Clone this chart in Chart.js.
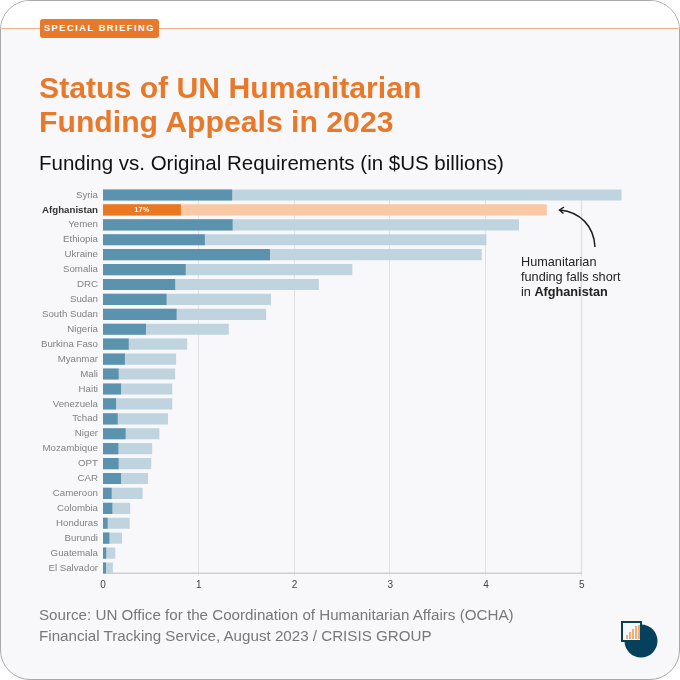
<!DOCTYPE html>
<html>
<head>
<meta charset="utf-8">
<script src="https://cdn.jsdelivr.net/npm/chart.js@4/dist/chart.umd.min.js"></script>
<style>
  html, body { margin: 0; padding: 0; background: #fff; }
  #card { position: relative; width: 680px; height: 680px; overflow: hidden; font-family: "Liberation Sans", Arial, sans-serif; }
  #bg { position: absolute; left: 0; top: 0; width: 678px; height: 678px; border: 1px solid #a9a9ab; border-radius: 30px; background: #f8f8fa; overflow: hidden; }
  #band { position: absolute; left: 0; top: 0; width: 100%; height: 27px; background: #fff; border-bottom: 1px solid #f2b28c; }
  #tag { position: absolute; left: 40px; top: 19px; width: 119px; height: 19px; border-radius: 3px; background: #e8792b; color: #fff; font-size: 9.3px; font-weight: bold; letter-spacing: 1.5px; line-height: 19.5px; text-align: center; }
  h1 { position: absolute; left: 39px; top: 71px; margin: 0; color: #e8792b; font-size: 30.2px; line-height: 34px; font-weight: bold; white-space: nowrap; }
  h2 { position: absolute; left: 39px; top: 151px; margin: 0; color: #111; font-size: 20.5px; line-height: 24px; font-weight: normal; white-space: nowrap; }
  #note { position: absolute; left: 521px; top: 255px; color: #222; font-size: 12.7px; line-height: 15px; white-space: nowrap; }
  #source { position: absolute; left: 39px; top: 605px; color: #77787b; font-size: 15.17px; line-height: 20.5px; white-space: nowrap; }
  canvas { position: absolute; left: 0; top: 0; }
  svg { position: absolute; left: 0; top: 0; }
</style>
</head>
<body>
<div id="card">
  <div id="bg"><div id="band"></div></div>
  <canvas id="chart" width="680" height="680"></canvas>
  <div id="tag">SPECIAL BRIEFING</div>
  <h1>Status of UN Humanitarian<br>Funding Appeals in 2023</h1>
  <h2>Funding vs. Original Requirements (in $US billions)</h2>
  <div id="note">Humanitarian<br>funding falls short<br>in <b>Afghanistan</b></div>
  <div id="source">Source: UN Office for the Coordination of Humanitarian Affairs (OCHA)<br>Financial Tracking Service, August 2023 / CRISIS GROUP</div>
  <svg width="680" height="680">
    <path d="M595 247 C594 226 580 212 560 210" fill="none" stroke="#1c1c1c" stroke-width="1.5"/>
    <path d="M564 207 L559.5 210 L563.5 213.5" fill="none" stroke="#1c1c1c" stroke-width="1.5"/>
    <circle cx="641" cy="641" r="16.5" fill="#05405c"/>
    <rect x="622" y="622" width="19" height="19" fill="#f8f8fa" stroke="#05405c" stroke-width="2"/>
    <g stroke="#ee9a5c" stroke-width="1.6">
      <line x1="627" y1="639" x2="627" y2="635"/>
      <line x1="630" y1="639" x2="630" y2="632"/>
      <line x1="633" y1="639" x2="633" y2="629"/>
      <line x1="636" y1="639" x2="636" y2="626"/>
      <line x1="639" y1="639" x2="639" y2="625"/>
    </g>
  </svg>
</div>
<script>
const categories = ['Syria', 'Afghanistan', 'Yemen', 'Ethiopia', 'Ukraine', 'Somalia', 'DRC', 'Sudan', 'South Sudan', 'Nigeria', 'Burkina Faso', 'Myanmar', 'Mali', 'Haiti', 'Venezuela', 'Tchad', 'Niger', 'Mozambique', 'OPT', 'CAR', 'Cameroon', 'Colombia', 'Honduras', 'Burundi', 'Guatemala', 'El Salvador'];
const funding = [1.345, 0.81, 1.35, 1.06, 1.74, 0.86, 0.75, 0.66, 0.765, 0.445, 0.265, 0.225, 0.16, 0.185, 0.133, 0.15, 0.233, 0.157, 0.16, 0.185, 0.087, 0.094, 0.045, 0.063, 0.03, 0.028];
const requirements = [5.41, 4.63, 4.34, 4.0, 3.95, 2.6, 2.25, 1.75, 1.7, 1.31, 0.875, 0.76, 0.75, 0.72, 0.72, 0.675, 0.585, 0.51, 0.5, 0.467, 0.41, 0.28, 0.275, 0.195, 0.125, 0.1];
const xTicks = [0, 1, 2, 3, 4, 5];
const highlight = 'Afghanistan';
const highlightLabel = '17%';

const isHighlight = (ctx) => categories[ctx.dataIndex] === highlight;

// grid and base line stop just under the last bar, and the % label sits on the orange bar
const extras = {
  id: 'extras',
  beforeDatasetsDraw(chart) {
    const { ctx, scales: { x, y } } = chart;
    const base = y.getPixelForValue(categories.length - 1) + 5.2;
    const lastX = x.getPixelForValue(xTicks[xTicks.length - 1]);
    ctx.save();
    ctx.strokeStyle = '#e1e1e4';
    xTicks.slice(1).forEach((v) => {
      const px = Math.round(x.getPixelForValue(v)) - 0.5;
      ctx.lineWidth = v === 5 ? 1.5 : 1;
      ctx.beginPath();
      ctx.moveTo(px, y.top + 2.5);
      ctx.lineTo(px, base + 2.5);
      ctx.stroke();
    });
    ctx.strokeStyle = '#cfcfd2';
    ctx.lineWidth = 1.5;
    ctx.beginPath();
    ctx.moveTo(x.left, base);
    ctx.lineTo(lastX, base);
    ctx.stroke();
    ctx.restore();
  },
  afterDatasetsDraw(chart) {
    const { ctx } = chart;
    const i = categories.indexOf(highlight);
    const meta = chart.getDatasetMeta(0).data[i];
    ctx.save();
    ctx.fillStyle = '#fff';
    ctx.font = 'bold 7.5px "Liberation Sans"';
    ctx.textAlign = 'center';
    ctx.textBaseline = 'middle';
    ctx.fillText(highlightLabel, (meta.base + meta.x) / 2, meta.y + 0.5);
    ctx.restore();
  }
};

new Chart(document.getElementById('chart'), {
  type: 'bar',
  data: {
    labels: categories,
    datasets: [
      {
        label: 'Funding',
        data: funding,
        order: 1,
        grouped: false,
        barThickness: 10.5,
        backgroundColor: (ctx) => isHighlight(ctx) ? '#ea7722' : '#5b93ae'
      },
      {
        label: 'Original requirements',
        data: requirements,
        order: 2,
        grouped: false,
        barThickness: 10.5,
        backgroundColor: (ctx) => isHighlight(ctx) ? '#f9c9a5' : '#c0d4e0'
      }
    ]
  },
  options: {
    indexAxis: 'y',
    responsive: false,
    animation: false,
    layout: { padding: { left: 0, right: 55, top: 187.5, bottom: 84.5 } },
    plugins: { legend: { display: false }, tooltip: { enabled: false } },
    scales: {
      x: {
        min: 0,
        max: 5.45,
        afterBuildTicks: (scale) => { scale.ticks = xTicks.map((v) => ({ value: v })); },
        afterFit: (scale) => { scale.height = 20; },
        grid: { display: false, drawTicks: false },
        border: { display: false },
        ticks: {
          color: '#444',
          font: { family: '"Liberation Sans"', size: 10 },
          padding: 4,
          maxRotation: 0
        }
      },
      y: {
        afterFit: (scale) => { scale.width = 103; },
        grid: { display: false, drawTicks: false },
        border: { display: false },
        ticks: {
          autoSkip: false,
          padding: 5,
          color: (ctx) => categories[ctx.index] === highlight ? '#333' : '#808184',
          font: (ctx) => ({
            family: '"Liberation Sans"',
            size: 9.7,
            weight: categories[ctx.index] === highlight ? 'bold' : 'normal'
          })
        }
      }
    }
  },
  plugins: [extras]
});
</script>
</body>
</html>
